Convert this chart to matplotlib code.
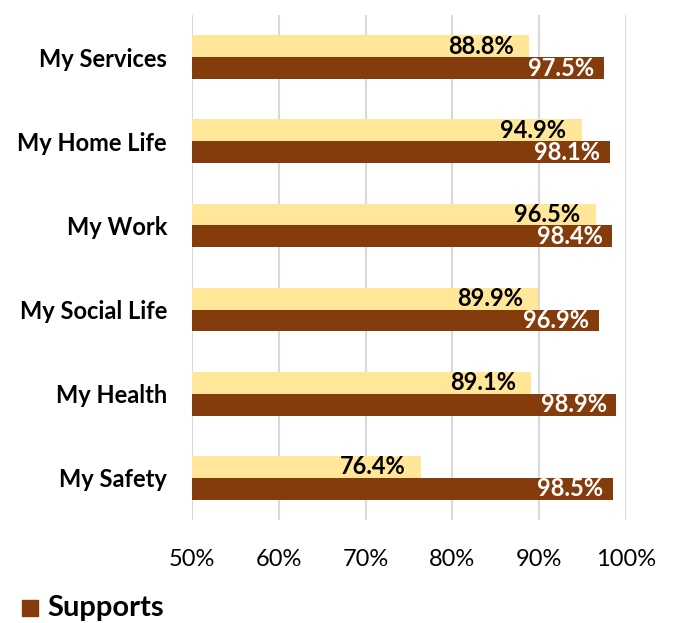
import matplotlib
matplotlib.use("Agg")
import matplotlib.pyplot as plt
import numpy as np

categories = ["My Services", "My Home Life", "My Work", "My Social Life", "My Health", "My Safety"]
series_light = [88.8, 94.9, 96.5, 89.9, 89.1, 76.4]
supports = [97.5, 98.1, 98.4, 96.9, 98.9, 98.5]
xticks = [50, 60, 70, 80, 90, 100]
xtick_labels = ["50%", "60%", "70%", "80%", "90%", "100%"]

FONT = ["Lato", "DejaVu Sans"]
plt.rcParams["font.family"] = FONT

LIGHT = "#FFE699"
DARK = "#843C0C"

fig = plt.figure(figsize=(6.73, 6.23), dpi=100)
ax = fig.add_axes([192 / 673, 1 - 520 / 623, (626 - 192) / 673, (520 - 15) / 623])

n = len(categories)
y = np.arange(n)
h = 0.26
left = 50

ax.barh(y - h / 2, np.array(series_light) - left, left=left, height=h, color=LIGHT, zorder=2)
ax.barh(y + h / 2, np.array(supports) - left, left=left, height=h, color=DARK, zorder=2)

for i in range(n):
    ax.annotate(f"{series_light[i]:.1f}%", (series_light[i], y[i] - h / 2),
                xytext=(-11, 0), textcoords="offset points", ha="right", va="center",
                fontsize=17, fontweight="bold", color="black", zorder=3)
    ax.annotate(f"{supports[i]:.1f}%", (supports[i], y[i] + h / 2),
                xytext=(-7, 0), textcoords="offset points", ha="right", va="center",
                fontsize=17, fontweight="bold", color="white", zorder=3)

ax.set_xlim(50, 100)
ax.set_ylim(n - 0.5, -0.5)
ax.set_xticks(xticks)
ax.set_xticklabels(xtick_labels, fontsize=17)
ax.set_yticks(y)
ax.set_yticklabels(categories, fontsize=17, fontweight="bold")
ax.tick_params(axis="both", length=0)
ax.tick_params(axis="x", pad=21)
ax.tick_params(axis="y", pad=18)
ax.grid(axis="x", color="#D9D9D9", linewidth=1.5, zorder=0)
ax.set_axisbelow(True)
for s in ax.spines.values():
    s.set_visible(False)

# legend entry for the supports series
fig.patches.append(plt.Rectangle((22 / 673, 1 - 616 / 623), 16 / 673, 16 / 623,
                                 transform=fig.transFigure, color=DARK))
fig.text(47 / 673, 1 - 608 / 623, "Supports", fontsize=21, fontweight="bold",
         va="center", ha="left")

fig.savefig("out.png", dpi=100)
